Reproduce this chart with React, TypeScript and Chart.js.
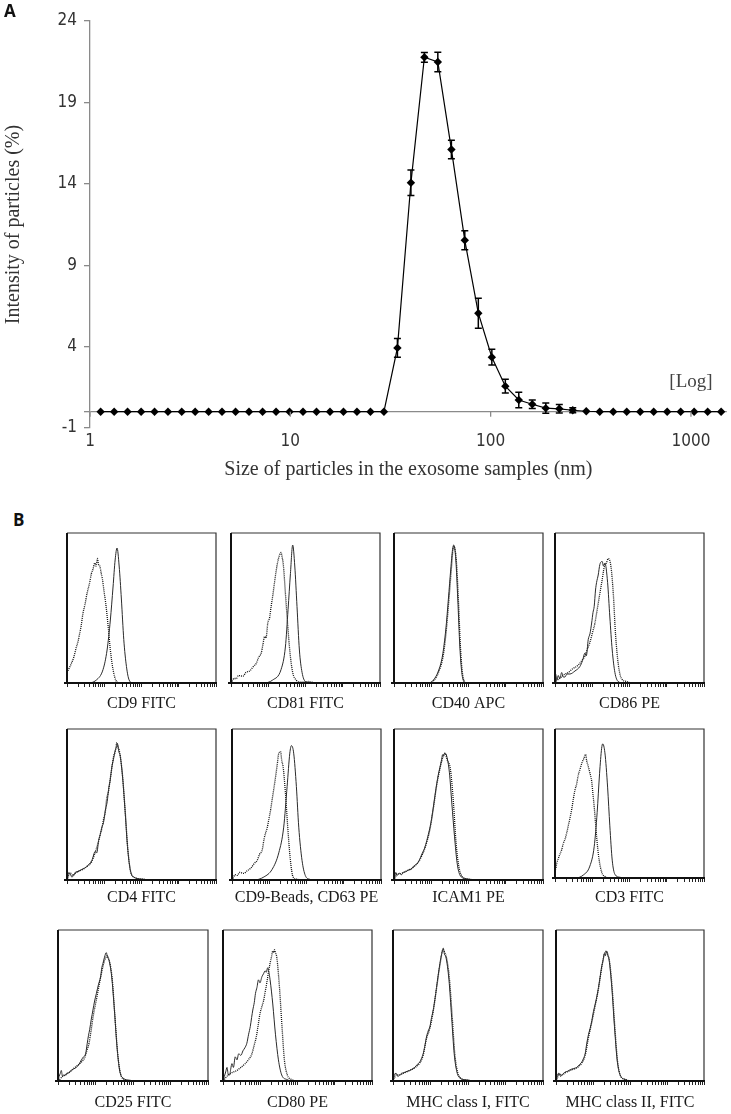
import React, { useEffect, useRef } from 'react';
import { Chart, registerables } from 'chart.js';

Chart.register(...registerables);

const SERIF = '"Liberation Serif", "Times New Roman", serif';
const NARROW = '"Liberation Sans Narrow", "DejaVu Sans Condensed", "Arial Narrow", sans-serif';

// ---------- Panel A data ----------
const sizesNm = [1.13, 1.32, 1.54, 1.8, 2.1, 2.45, 2.87, 3.35, 3.91, 4.56, 5.33, 6.22, 7.27, 8.49, 9.91, 11.57, 13.51, 15.78, 18.42, 21.51, 25.12, 29.33, 34.25, 40.0, 46.7, 54.5, 63.7, 74.3, 86.8, 101.4, 118.4, 138.2, 161.4, 188.5, 220.2, 257.0, 300.2, 350.5, 409.3, 478.0, 558.1, 651.6, 761.0, 888.6, 1037.5, 1211.6, 1414.8];
const intensity = [0, 0, 0, 0, 0, 0, 0, 0, 0, 0, 0, 0, 0, 0, 0, 0, 0, 0, 0, 0, 0, 0, 3.92, 14.06, 21.77, 21.48, 16.11, 10.53, 6.05, 3.35, 1.57, 0.72, 0.46, 0.22, 0.18, 0.09, 0.03, 0, 0, 0, 0, 0, 0, 0, 0, 0, 0];
const intensityErr = [0, 0, 0, 0, 0, 0, 0, 0, 0, 0, 0, 0, 0, 0, 0, 0, 0, 0, 0, 0, 0, 0, 0.58, 0.78, 0.3, 0.6, 0.57, 0.58, 0.92, 0.48, 0.42, 0.48, 0.26, 0.32, 0.26, 0.15, 0, 0, 0, 0, 0, 0, 0, 0, 0, 0, 0];
const yTickValues = [-1, 0, 4, 9, 14, 19, 24];
const xTickValues = [1, 10, 100, 1000];

// ---------- Panel B data (x: % of plot width, y: % of plot height) ----------
const cd9Dotted = [[0, 7], [1.5, 10], [2.9, 13], [4.5, 17], [6.3, 24], [7.5, 28], [8.5, 33], [9.5, 38], [10.8, 47], [12, 52], [13.5, 60], [15, 66], [16.4, 73], [17.5, 76], [18.6, 80], [19.5, 78], [20.4, 83], [21.2, 79], [22, 78], [23, 73], [23.8, 69], [25, 60], [26, 53], [27.6, 38], [29.1, 22], [30.9, 9], [32.7, 2], [35.4, 0], [100, 0]];
const cd9Solid = [[0, 0], [13, 0], [19.7, 2], [24.2, 9], [26.9, 22], [29.1, 42], [30.9, 64], [32.3, 82], [33.6, 90], [35, 78], [36.5, 56], [38.1, 29], [39.9, 11], [41.7, 2], [44.4, 0], [100, 0]];

const cd81Dotted = [[0, 0], [0.7, 1], [2, 3], [3.6, 3], [5, 5], [8, 4.5], [10, 7], [12.5, 8], [15, 11], [16.9, 13], [18.5, 17], [20.3, 20], [21.5, 26], [22.5, 31], [23.5, 30], [24.7, 40], [26, 44], [26.9, 51], [28, 58], [29.2, 67], [30.2, 74], [31.4, 81], [32.5, 85], [33.6, 87], [34.3, 84], [35.2, 78], [36.5, 60], [38.1, 38], [39.6, 20], [41.4, 7], [43.7, 2], [47, 0.5], [52, 1], [57, 0], [100, 0]];
const cd81Solid = [[0, 0], [21.4, 0], [28, 2], [33.6, 9], [36.5, 24], [38.3, 49], [39.9, 73], [41.4, 92], [42.8, 78], [44.3, 51], [45.9, 22], [47.7, 7], [49.9, 1], [53.7, 0], [100, 0]];

const cd40Solid = [[0, 0], [23, 0], [26.5, 2], [29.8, 8], [32.5, 18], [34.8, 36], [36.5, 56], [38.1, 76], [39.3, 89], [40.1, 92], [41.5, 82], [42.8, 56], [44.2, 24], [45.5, 7], [46.9, 1], [48.9, 0], [100, 0]];
const cd40Dotted = [[0, 0], [23.5, 0], [27, 2], [30.2, 8], [33, 18], [35.2, 36], [36.9, 56], [38.5, 76], [39.6, 89], [40.3, 91], [41.8, 82], [43.2, 56], [44.6, 24], [45.9, 7], [47.3, 1], [49.5, 0], [100, 0]];

const cd86Solid = [[0, 0], [0.4, 6], [1.2, 2], [2.2, 5], [3.2, 3], [4.5, 7], [5.5, 4], [6.7, 4], [8, 6], [10, 6], [13.4, 8], [16.7, 11], [18.5, 15], [20.1, 20], [21, 18], [22.3, 29], [23.5, 33], [24.6, 40], [25.5, 47], [26.3, 51], [27.2, 62], [27.9, 67], [29, 72], [30.1, 79], [31.7, 81], [32.5, 78], [33.5, 80], [35.3, 67], [36.8, 44], [38.4, 22], [40.2, 7], [42.4, 1], [45.8, 0], [100, 0]];
const cd86Dotted = [[0, 0], [0.7, 1], [3, 3], [6.7, 6], [9, 7], [11.2, 9], [15.6, 12], [18, 15], [20.1, 18], [21.5, 22], [23.4, 27], [25, 33], [26.8, 40], [28, 47], [29, 53], [30.5, 62], [31.7, 69], [32.6, 75], [33.5, 79], [34.5, 80], [35.7, 83], [37.5, 78], [39.1, 60], [40.6, 33], [42.4, 13], [44.6, 3], [48, 1], [51.3, 0], [100, 0]];

const cd4Solid = [[0, 0], [0.4, 2], [1.2, 5], [2.2, 4], [3.2, 2], [4.5, 3], [5.5, 5], [6.7, 5.5], [8, 6], [10, 7], [13.4, 9], [16.7, 13], [19, 19], [20, 18], [21.2, 26], [22.3, 30], [23.4, 35], [24.5, 38], [25.7, 46], [27, 52], [27.9, 60], [29, 66], [30.1, 75], [31.2, 80], [32.4, 86], [33.2, 88], [33.9, 90], [34.8, 85], [35.7, 82], [37.3, 68], [39.1, 44], [40.6, 22], [42.4, 7], [44.6, 2], [51.3, 0.5], [55.8, 0], [100, 0]];
const cd4Dotted = [[0, 0], [0.6, 1.5], [1.5, 4], [2.5, 4.5], [4, 3], [5, 4], [6.5, 5], [8.5, 6], [10.5, 7], [13.4, 9], [16.5, 12], [18.5, 17], [19.5, 20], [21, 25], [22.5, 31], [23.4, 34], [24.5, 40], [25.7, 45], [26.5, 53], [27.9, 59], [29, 67], [30.1, 74], [31.3, 82], [32.4, 85], [33.5, 91], [34.2, 88], [35, 86], [35.8, 82], [37.3, 69], [39.1, 45], [40.8, 21], [42.6, 6], [44.8, 2], [51.3, 0.5], [56, 0], [100, 0]];

const cd63Dotted = [[0, 0], [0.7, 1], [2, 3.5], [3.6, 3], [5, 5], [8, 4.4], [10, 6], [12.5, 7.7], [15, 11], [16.9, 13], [18.5, 17], [20.3, 20], [21.5, 27], [22.5, 31], [23.5, 34], [24.7, 40], [26, 47], [26.9, 53], [28, 60], [29.2, 68], [30.3, 76], [31.4, 84], [32.6, 85], [33.4, 79], [34.3, 75], [35.9, 57], [37.4, 35], [39.2, 13], [41, 2], [43.7, 0.5], [46, 0], [100, 0]];
const cd63Solid = [[0, 0], [14.7, 0], [21.4, 2], [26.9, 7], [31.4, 18], [34.7, 35], [37, 62], [38.8, 84], [39.9, 89], [41.4, 84], [43.2, 62], [44.8, 35], [47, 13], [49.2, 3], [52.1, 0.5], [55.9, 0], [100, 0]];

const icamSolid = [[0, 0], [0.4, 2], [1.2, 5], [2, 3], [2.9, 4], [4, 4.5], [5, 3.5], [6.3, 5], [8, 5.5], [9.6, 6.6], [11.5, 7], [13, 9], [14.5, 10], [16.4, 12], [17.8, 15], [19.1, 18], [20.5, 21], [22, 26], [23, 30], [24.2, 35], [25.3, 41], [26.5, 49], [27.5, 56], [28.7, 64], [29.8, 70], [30.9, 75], [32, 80], [32.6, 83], [33.2, 82], [34, 84], [35.4, 82], [37.2, 71], [38.8, 51], [40.6, 29], [42.4, 11], [44.4, 3], [47.8, 1], [54.5, 0.2], [59, 0], [100, 0]];
const icamDotted = [[0, 0], [0.6, 1], [2, 4], [4, 4], [6.3, 5], [9.6, 6.5], [13, 8.5], [16.4, 12], [19.1, 17], [22, 25], [24.2, 34], [26.5, 48], [28.7, 63], [30.9, 74], [33, 82], [34.3, 84], [35.5, 80], [37.9, 73], [39.9, 51], [41.7, 24], [43.7, 8], [46, 2], [50, 0.5], [60, 0], [100, 0]];

const cd3Dotted = [[0, 6], [0.4, 6], [1.2, 10], [2.2, 13], [3.3, 16], [4.5, 19], [5.5, 23], [6.7, 26], [7.8, 30], [8.9, 35], [10, 40], [11.2, 46], [12.3, 53], [13.4, 59], [14.5, 63], [15.6, 69], [16.8, 73], [18.3, 78], [19.3, 80], [20.5, 83], [21.2, 79], [22.3, 75], [23.3, 71], [24.6, 65], [25.5, 56], [26.3, 48], [27.1, 38], [27.9, 28], [29.5, 13], [31.3, 4], [33.5, 1], [36.8, 0], [100, 0]];
const cd3Solid = [[0, 0], [13.4, 0], [19, 2], [23.4, 8], [26.3, 21], [28.3, 44], [29.9, 70], [31.3, 87], [32, 90], [33.5, 84], [35.3, 61], [36.8, 35], [38.4, 12], [40.2, 2.5], [43.5, 0.5], [46.9, 0], [100, 0]];

const cd25Solid = [[0, 0], [0.7, 3], [1.5, 5], [2.2, 7], [3, 3], [3.8, 4], [4.6, 3.5], [5.6, 5], [7, 5.5], [8.9, 7], [10.5, 8], [12.2, 9], [14, 11], [15.6, 14], [17, 16], [18.4, 18], [19.5, 25], [20.3, 30], [21.1, 34], [22.2, 41], [23.3, 47], [24.4, 53], [25.6, 58], [27, 64], [28.4, 69], [29.2, 75], [30, 78], [31, 82], [32.2, 85], [33, 82], [34, 80], [35.8, 69], [37.6, 47], [39.3, 23], [41.1, 7], [43.3, 2], [47.8, 0.5], [52.2, 0], [100, 0]];
const cd25Dotted = [[0, 0], [1.1, 1], [3, 3], [5.6, 4.4], [8, 6], [10, 8], [12, 9.5], [14.4, 11.5], [16, 13], [17.8, 15.5], [19.2, 20], [20.7, 25], [22, 33], [23.3, 42], [24.6, 49], [26, 56], [27.5, 64], [28.9, 71], [30, 76], [31.1, 80], [32, 82], [32.9, 83], [33.7, 81], [34.4, 79], [36.2, 67], [38, 42], [39.8, 18], [41.6, 5], [44.4, 1], [48.9, 0], [100, 0]];

const cd80Solid = [[0, 0], [0.9, 3], [1.8, 6], [2.7, 9], [3.6, 4], [4.5, 4], [5.2, 8], [6, 11.5], [7, 9], [8.2, 16], [9.4, 14], [10.5, 18], [12, 17], [13.4, 20], [14.7, 22], [16, 25], [17.2, 31], [18.3, 36], [19.2, 42], [20, 47], [21, 52], [21.8, 58], [22.8, 62], [23.8, 67], [24.8, 65], [26.1, 69], [27.2, 71], [28.3, 73], [29, 72], [30, 75], [30.8, 72], [31.6, 67], [33.4, 51], [35.2, 31], [37.2, 14], [39.4, 4], [42.8, 1], [47.2, 0], [100, 0]];
const cd80Dotted = [[0, 0], [0.9, 1], [2.5, 3], [4.9, 5], [7, 6], [9.4, 7], [12, 9], [14.9, 11.5], [17, 14], [19.4, 18], [21, 24], [22.3, 29], [23.6, 37], [24.9, 45], [26, 49], [27.2, 53], [28.3, 59], [29.4, 65], [30.5, 72], [31.6, 78], [32.5, 82], [33.4, 86], [34, 85], [34.5, 87], [35.2, 85], [36.1, 82], [37.9, 62], [39.6, 36], [41.2, 14], [43.2, 4], [46.1, 1], [50.6, 0], [100, 0]];

const mhc1Solid = [[0, 0], [0.7, 3], [1.4, 5], [2.2, 5], [3.2, 3], [4.5, 4], [5.5, 5], [6.7, 5.3], [8.3, 6], [10, 6.6], [12.2, 7.5], [14.5, 9], [16.2, 11], [17.9, 12.6], [19, 15], [20.1, 18], [21.2, 23], [22.3, 29], [23.4, 33], [24.6, 36], [25.7, 42], [26.8, 47], [27.9, 54], [29, 62], [30.1, 70], [31.3, 78], [32.4, 84], [33.5, 88], [34.3, 84], [35.3, 82], [37.3, 67], [39.1, 42], [40.8, 18], [42.6, 6], [44.6, 2], [49.1, 0.7], [54.7, 0], [100, 0]];
const mhc1Dotted = [[0, 0], [0.9, 2], [2.2, 4], [4.5, 4], [6.7, 5], [10, 6.5], [14.5, 8.8], [17.9, 12], [20.1, 17], [22.3, 28], [24.6, 35], [26.8, 46], [29, 61], [31.3, 77], [33.5, 87], [34.5, 85], [35.6, 82], [37.6, 68], [39.5, 42], [41.2, 18], [43, 6], [45, 2], [50, 0.5], [56, 0], [100, 0]];

const mhc2Solid = [[0, 0], [0.7, 3], [1.5, 5], [2.2, 5], [3.1, 3], [4, 4], [5, 5], [6.3, 6], [8, 6.5], [9.6, 7.5], [12, 8.3], [14.1, 9], [16, 11], [17.5, 12.6], [18.6, 15], [19.7, 18], [20.8, 25], [22, 31], [23.1, 35], [24.2, 40], [25.3, 46], [26.5, 51], [27.6, 56], [28.7, 62], [29.8, 69], [30.9, 76], [31.8, 80], [32.7, 84.5], [33.4, 83], [34.1, 86], [35, 83], [35.9, 80], [37.7, 62], [39.5, 36], [41.3, 14], [43.3, 4], [46.6, 1], [51.1, 0], [100, 0]];
const mhc2Dotted = [[0, 0], [0.9, 2], [2.2, 4.5], [4, 4], [6.3, 5.5], [9.6, 7], [14.1, 8.8], [17.5, 12], [19.7, 17], [22, 29], [24.2, 39], [26.5, 50], [28.7, 61], [30.9, 75], [32.7, 84], [34, 86], [35, 84], [36.2, 79], [38, 61], [39.8, 35], [41.6, 13], [43.6, 3.5], [47, 1], [52, 0], [100, 0]];

const histLabels = ['CD9 FITC', 'CD81 FITC', 'CD40 APC', 'CD86 PE', 'CD4 FITC', 'CD9-Beads, CD63 PE', 'ICAM1 PE', 'CD3 FITC', 'CD25 FITC', 'CD80 PE', 'MHC class I, FITC', 'MHC class II, FITC'];
const histSolid = [cd9Solid, cd81Solid, cd40Solid, cd86Solid, cd4Solid, cd63Solid, icamSolid, cd3Solid, cd25Solid, cd80Solid, mhc1Solid, mhc2Solid];
const histDotted = [cd9Dotted, cd81Dotted, cd40Dotted, cd86Dotted, cd4Dotted, cd63Dotted, icamDotted, cd3Dotted, cd25Dotted, cd80Dotted, mhc1Dotted, mhc2Dotted];
const histTickValues = [1, 2, 3, 4, 5, 6, 7, 8, 9, 10, 20, 30, 40, 50, 60, 70, 80, 90, 100, 200, 300, 400, 500, 600, 700, 800, 900, 1000, 2000, 3000, 4000, 5000, 6000, 7000, 8000, 9000, 10000];

// ---------- Layout (pixel boxes of each histogram plot area) ----------
const histBoxes = [
  { l: 67, t: 533, r: 216, b: 683, gap: 21 },
  { l: 231, t: 533, r: 380, b: 683, gap: 21 },
  { l: 394, t: 533, r: 543, b: 683, gap: 21 },
  { l: 555, t: 533, r: 704, b: 683, gap: 21 },
  { l: 67, t: 729, r: 216, b: 880, gap: 18 },
  { l: 232, t: 729, r: 381, b: 880, gap: 18 },
  { l: 394, t: 729, r: 543, b: 880, gap: 18 },
  { l: 555, t: 729, r: 704, b: 878, gap: 20 },
  { l: 58, t: 930, r: 208, b: 1081, gap: 22 },
  { l: 223, t: 930, r: 372, b: 1081, gap: 22 },
  { l: 393, t: 930, r: 543, b: 1081, gap: 22 },
  { l: 556, t: 930, r: 704, b: 1081, gap: 22 },
];
const H_PAD_X = 10;
const H_PAD_T = 4;
const H_AXIS = 40;

// ---------- Plugins ----------
const errorBarPlugin = {
  id: 'errorBars',
  afterDatasetsDraw(chart: any) {
    const { ctx, scales } = chart;
    const x = scales.x;
    const y = scales.y;
    ctx.save();
    ctx.strokeStyle = '#000';
    ctx.lineWidth = 1.5;
    sizesNm.forEach((s, i) => {
      const e = intensityErr[i];
      if (!e) return;
      const px = x.getPixelForValue(s);
      const top = y.getPixelForValue(intensity[i] + e);
      const bot = y.getPixelForValue(intensity[i] - e);
      ctx.beginPath();
      ctx.moveTo(px, top);
      ctx.lineTo(px, bot);
      ctx.moveTo(px - 3.5, top);
      ctx.lineTo(px + 3.5, top);
      ctx.moveTo(px - 3.5, bot);
      ctx.lineTo(px + 3.5, bot);
      ctx.stroke();
    });
    ctx.restore();
  },
};

const logLabelPlugin = {
  id: 'logLabel',
  afterDraw(chart: any) {
    const { ctx, scales } = chart;
    const x = scales.x;
    const y = scales.y;
    ctx.save();
    ctx.strokeStyle = '#8a8a8a';
    ctx.lineWidth = 1.3;
    const y0 = y.getPixelForValue(0);
    xTickValues.forEach((v) => {
      const px = x.getPixelForValue(v);
      ctx.beginPath();
      ctx.moveTo(px, y0);
      ctx.lineTo(px, y0 + 5);
      ctx.stroke();
    });
    ctx.fillStyle = '#444';
    ctx.font = '19px ' + SERIF;
    ctx.textAlign = 'center';
    ctx.textBaseline = 'middle';
    ctx.fillText('[Log]', x.getPixelForValue(1000), y.getPixelForValue(1.84));
    ctx.restore();
  },
};

const boxPlugin = {
  id: 'box',
  afterDatasetsDraw(chart: any) {
    const { ctx, chartArea } = chart;
    const { left, top, right, bottom } = chartArea;
    ctx.save();
    ctx.strokeStyle = '#333';
    ctx.lineWidth = 1.2;
    ctx.beginPath();
    ctx.moveTo(left, top);
    ctx.lineTo(right, top);
    ctx.lineTo(right, bottom);
    ctx.stroke();
    ctx.strokeStyle = '#111';
    ctx.lineWidth = 2;
    ctx.beginPath();
    ctx.moveTo(left, top);
    ctx.lineTo(left, bottom);
    ctx.moveTo(left - 3, bottom);
    ctx.lineTo(right + 1, bottom);
    ctx.stroke();
    ctx.restore();
  },
};

function SizeChart() {
  const ref = useRef<HTMLCanvasElement>(null);
  useEffect(() => {
    if (!ref.current) return;
    const chart = new Chart(ref.current, {
      type: 'line',
      data: {
        datasets: [
          {
            data: sizesNm.map((s, i) => ({ x: s, y: intensity[i] })),
            borderColor: '#000',
            borderWidth: 1.2,
            pointStyle: 'rectRot',
            pointRadius: 4.2,
            pointBackgroundColor: '#000',
            pointBorderColor: '#000',
            pointBorderWidth: 0,
            tension: 0,
            clip: false as any,
          },
        ],
      },
      options: {
        responsive: false,
        animation: false,
        devicePixelRatio: 1,
        layout: { padding: { left: 2, right: 3, top: 21, bottom: 0 } },
        plugins: { legend: { display: false }, tooltip: { enabled: false } },
        scales: {
          x: {
            type: 'logarithmic',
            min: 1,
            max: 1510,
            afterBuildTicks: (s: any) => {
              s.ticks = xTickValues.map((v) => ({ value: v }));
            },
            afterFit: (s: any) => {
              s.height = 62;
            },
            grid: { display: false, drawTicks: false },
            border: { display: false },
            ticks: {
              color: '#333',
              font: { family: NARROW, size: 17 },
              padding: 3,
              maxRotation: 0,
              autoSkip: false,
              callback: (v: any) => String(v),
            },
            title: {
              display: true,
              text: 'Size of particles in the exosome samples (nm)',
              color: '#333',
              font: { family: SERIF, size: 20 },
              padding: { top: 0, bottom: 8 },
            },
          },
          y: {
            min: -1,
            max: 24,
            afterBuildTicks: (s: any) => {
              s.ticks = yTickValues.map((v) => ({ value: v }));
            },
            afterFit: (s: any) => {
              s.width = 88;
            },
            grid: {
              color: (c: any) => (c.tick && c.tick.value === 0 ? '#8a8a8a' : 'rgba(0,0,0,0)'),
              tickColor: '#8a8a8a',
              tickLength: 6,
              lineWidth: 1.3,
              drawOnChartArea: true,
            },
            border: { display: true, color: '#8a8a8a', width: 1.3 },
            ticks: {
              color: '#333',
              font: { family: NARROW, size: 17 },
              padding: 7,
              callback: (v: any) => (v === 0 ? '' : String(v)),
            },
            title: {
              display: true,
              text: 'Intensity of particles (%)',
              color: '#333',
              font: { family: SERIF, size: 20 },
              padding: { top: 0, bottom: 0 },
            },
          },
        },
      } as any,
      plugins: [errorBarPlugin, logLabelPlugin],
    });
    return () => chart.destroy();
  }, []);
  return (
    <canvas
      ref={ref}
      width={731}
      height={490}
      style={{ position: 'absolute', left: 0, top: 0, width: 731, height: 490, display: 'block' }}
    />
  );
}

function Histogram({ idx }: { idx: number }) {
  const ref = useRef<HTMLCanvasElement>(null);
  const box = histBoxes[idx];
  const w = box.r - box.l + 2 * H_PAD_X;
  const h = box.b - box.t + H_PAD_T + H_AXIS;
  useEffect(() => {
    if (!ref.current) return;
    const toPts = (arr: number[][]) => arr.map((p) => ({ x: p[0], y: p[1] }));
    const chart = new Chart(ref.current, {
      type: 'line',
      data: {
        datasets: [
          {
            data: toPts(histSolid[idx]),
            borderColor: '#2a2a2a',
            borderWidth: 1,
            pointRadius: 0,
            cubicInterpolationMode: 'monotone',
            xAxisID: 'x',
            yAxisID: 'y',
          },
          {
            data: toPts(histDotted[idx]),
            borderColor: '#111',
            borderWidth: 1.3,
            borderDash: [1, 1],
            pointRadius: 0,
            cubicInterpolationMode: 'monotone',
            xAxisID: 'x',
            yAxisID: 'y',
          },
        ],
      },
      options: {
        responsive: false,
        animation: false,
        devicePixelRatio: 1,
        layout: { padding: { left: H_PAD_X, right: H_PAD_X, top: H_PAD_T, bottom: 0 } },
        plugins: { legend: { display: false }, tooltip: { enabled: false } },
        scales: {
          x: { type: 'linear', display: false, min: 0, max: 100 },
          y: { type: 'linear', display: false, min: 0, max: 100 },
          xt: {
            type: 'logarithmic',
            position: 'bottom',
            min: 1,
            max: 10000,
            afterBuildTicks: (s: any) => {
              s.ticks = histTickValues.map((v) => ({ value: v }));
            },
            afterFit: (s: any) => {
              s.height = H_AXIS;
            },
            grid: {
              display: true,
              drawOnChartArea: false,
              drawTicks: true,
              tickLength: 4,
              color: '#222',
              lineWidth: 1,
            },
            border: { display: false },
            ticks: { display: false, autoSkip: false, maxRotation: 0 },
            title: {
              display: true,
              text: histLabels[idx],
              color: '#1a1a1a',
              font: { family: SERIF, size: 16 },
              padding: { top: 0, bottom: 30.4 - box.gap },
            },
          },
        },
      } as any,
      plugins: [boxPlugin],
    });
    return () => chart.destroy();
  }, [idx]);
  return (
    <canvas
      ref={ref}
      width={w}
      height={h}
      style={{
        position: 'absolute',
        left: box.l - H_PAD_X,
        top: box.t - H_PAD_T,
        width: w,
        height: h,
        display: 'block',
      }}
    />
  );
}

export default function App() {
  const panelLabel = {
    position: 'absolute' as const,
    fontFamily: '"Open Sans", "Liberation Sans", sans-serif',
    fontWeight: 700,
    fontSize: 17,
    lineHeight: '17px',
    color: '#111',
  };
  return (
    <div style={{ position: 'absolute', left: 0, top: 0, width: 731, height: 1114, background: '#fff', overflow: 'hidden' }}>
      <SizeChart />
      {histLabels.map((_, i) => (
        <Histogram key={i} idx={i} />
      ))}
      <div style={{ ...panelLabel, left: 4, top: 2 }}>A</div>
      <div style={{ ...panelLabel, left: 13, top: 511 }}>B</div>
    </div>
  );
}
